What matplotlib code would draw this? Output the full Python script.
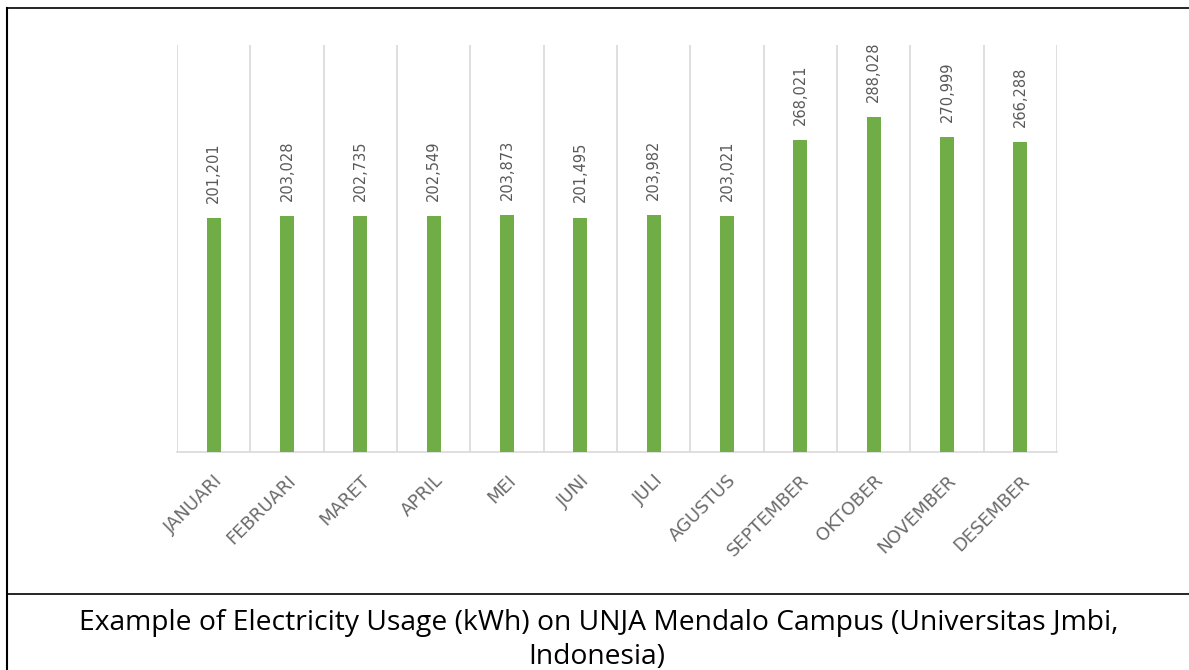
import numpy as np
import matplotlib.pyplot as plt
from matplotlib.lines import Line2D

# data
bulan = ["JANUARI", "FEBRUARI", "MARET", "APRIL", "MEI", "JUNI", "JULI",
         "AGUSTUS", "SEPTEMBER", "OKTOBER", "NOVEMBER", "DESEMBER"]
pemakaian = [201201, 203028, 202735, 202549, 203873, 201495, 203982,
             203021, 268021, 288028, 270999, 266288]
caption1 = "Example of Electricity Usage (kWh) on UNJA Mendalo Campus (Universitas Jmbi,"
caption2 = "Indonesia)"

fig = plt.figure(figsize=(11.89, 6.70), dpi=100)
ax = fig.add_axes([177/1189, 1-452/670, (1057-177)/1189, (452-45)/670])

x = np.arange(len(bulan))
ax.bar(x, pemakaian, width=0.19, color="#70AD47", zorder=3)

for xi, v in zip(x, pemakaian):
    ax.annotate(f"{v:,}", (xi, v), xytext=(0, 11), textcoords="offset points",
                rotation=90, ha="center", va="bottom", fontsize=10.5, color="#595959")

ax.set_xlim(-0.5, len(bulan) - 0.5)
ax.set_ylim(0, 350000)
ax.set_yticks([])
ax.set_xticks(x)
ax.set_xticklabels(bulan, rotation=45, ha="right", rotation_mode="anchor",
                   fontsize=13, color="#6b6b6b")
ax.tick_params(axis="x", length=0, pad=14)
ax.set_xticks(np.arange(-0.5, len(bulan)), minor=True)
ax.tick_params(axis="x", which="minor", length=0)
ax.grid(True, which="minor", axis="x", color="#D9D9D9", linewidth=1.2)
for s in ["top", "right", "left"]:
    ax.spines[s].set_visible(False)
ax.spines["bottom"].set_color("#D9D9D9")
ax.spines["bottom"].set_linewidth(1.2)

# table frame
fig.add_artist(Line2D([7/1189, 7/1189], [0, 1-8/670], color="black", lw=1.5))
fig.add_artist(Line2D([7/1189, 1], [1-8/670, 1-8/670], color="black", lw=1.2))
fig.add_artist(Line2D([7/1189, 1], [1-594/670, 1-594/670], color="black", lw=1.2))

fig.text(599/1189, 1-623/670, caption1, ha="center", va="center",
         fontsize=20.3, family="Open Sans", color="black")
fig.text(597/1189, 1-657/670, caption2, ha="center", va="center",
         fontsize=20.3, family="Open Sans", color="black")

fig.savefig("out.png", dpi=100)
